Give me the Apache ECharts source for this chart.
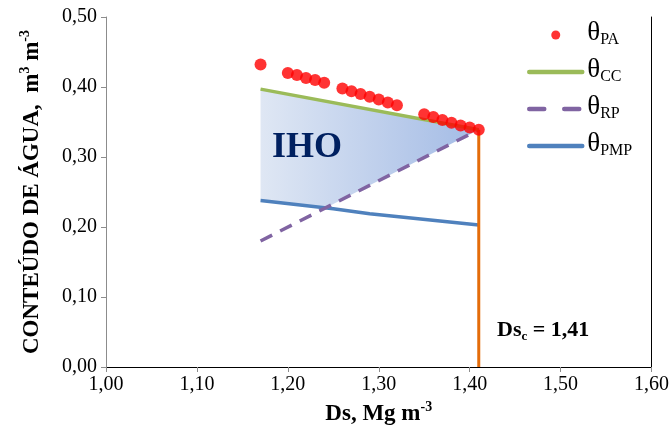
<!DOCTYPE html>
<html><head><meta charset="utf-8">
<script src="https://cdn.jsdelivr.net/npm/echarts@6/dist/echarts.min.js"></script>
<style>html,body{margin:0;padding:0;background:#fff}#c{width:672px;height:436px}</style>
</head><body><div id="c"></div>
<script>
// ---- data ----
const paX = [1.17,1.20,1.21,1.22,1.23,1.24,1.26,1.27,1.28,1.29,1.30,1.31,1.32,1.35,1.36,1.37,1.38,1.39,1.40,1.41];
const paY = [0.432,0.420,0.417,0.413,0.410,0.406,0.398,0.394,0.390,0.386,0.382,0.378,0.374,0.361,0.357,0.353,0.349,0.345,0.342,0.339];
const ccX = [1.17,1.41];
const ccY = [0.397,0.339];
const rpX = [1.17,1.41];
const rpY = [0.180,0.339];
const pmpX = [1.17,1.25,1.29,1.41];
const pmpY = [0.238,0.226,0.219,0.203];
const dscX = [1.41,1.41];
const dscY = [0.0,0.339];
const xMin = 1.0, xMax = 1.6, xStep = 0.1;
const yMin = 0.0, yMax = 0.5, yStep = 0.1;
const dscLabel = '1,41';

const zip = (a,b) => a.map((v,i)=>[v,b[i]]);
const SERIF = '"Liberation Serif","DejaVu Serif",serif';

// IHO polygon from the data lines: top = CC, bottom = max(RP, PMP)
function interp(xs, ys, x){
  for (let i=0;i<xs.length-1;i++){
    if (x>=xs[i]-1e-9 && x<=xs[i+1]+1e-9){
      const t=(x-xs[i])/(xs[i+1]-xs[i]); return ys[i]+t*(ys[i+1]-ys[i]);
    }
  }
  return ys[ys.length-1];
}
function ihoPolygon(){
  const pts=[];
  ccX.forEach((x,i)=>pts.push([x,ccY[i]]));
  let xs = Array.from(new Set([...rpX,...pmpX])).sort((a,b)=>a-b);
  const extra=[];
  for (let i=0;i<xs.length-1;i++){
    const a=xs[i], b=xs[i+1];
    const da=interp(rpX,rpY,a)-interp(pmpX,pmpY,a);
    const db=interp(rpX,rpY,b)-interp(pmpX,pmpY,b);
    if (da*db<0){ extra.push(a+(b-a)*da/(da-db)); }
  }
  xs = xs.concat(extra).sort((a,b)=>b-a);
  xs.forEach(x=>pts.push([x, Math.max(interp(rpX,rpY,x), interp(pmpX,pmpY,x))]));
  return pts;
}
const ihoPts = ihoPolygon();

const chart = echarts.init(document.getElementById('c'), null, {renderer:'canvas'});
const fmt = v => v.toFixed(2).replace('.',',');
const legendRich = {
  t:{fontSize:27, fontFamily:SERIF, color:'#000', lineHeight:27, verticalAlign:'top'},
  s:{fontSize:16, fontFamily:SERIF, color:'#000', lineHeight:16, padding:[14,0,0,0]}
};
const nameRich = {
  b:{fontFamily:SERIF, fontSize:23, fontWeight:'bold', color:'#000', lineHeight:28},
  sup:{fontFamily:SERIF, fontSize:14, fontWeight:'bold', color:'#000', lineHeight:28, verticalAlign:'top', padding:[0,0,8,0]}
};
const hideSym = {opacity:0};
chart.setOption({
  animation:false,
  backgroundColor:'#fff',
  grid:{left:106, right:16, top:17, bottom:69, containLabel:false},
  xAxis:[{
    type:'value', min:xMin, max:xMax, interval:xStep,
    axisLine:{show:true, lineStyle:{color:'#8c8c8c', width:1}},
    axisTick:{show:true, inside:false, length:5, lineStyle:{color:'#8c8c8c'}},
    splitLine:{show:false},
    axisLabel:{formatter:fmt, fontFamily:SERIF, fontSize:20, color:'#000', margin:8},
    name:'{b|Ds, Mg m}{sup|-3}', nameLocation:'middle', nameGap:32,
    nameTextStyle:{rich:nameRich}
  },{
    type:'value', position:'top', min:xMin, max:xMax, interval:xStep,
    axisLine:{show:true, lineStyle:{color:'#000', width:1}},
    axisTick:{show:false}, axisLabel:{show:false}, splitLine:{show:false}
  }],
  yAxis:[{
    type:'value', min:yMin, max:yMax, interval:yStep,
    axisLine:{show:true, lineStyle:{color:'#8c8c8c', width:1}},
    axisTick:{show:true, inside:false, length:5, lineStyle:{color:'#8c8c8c'}},
    splitLine:{show:false},
    axisLabel:{formatter:fmt, fontFamily:SERIF, fontSize:20, color:'#000', margin:9},
    name:'{b|CONTEÚDO DE ÁGUA,  m}{sup|3}{b| m}{sup|-3}', nameLocation:'middle', nameGap:60, nameRotate:90,
    nameTextStyle:{rich:nameRich}
  },{
    type:'value', position:'right', min:yMin, max:yMax, interval:yStep,
    axisLine:{show:true, lineStyle:{color:'#000', width:1}},
    axisTick:{show:false}, axisLabel:{show:false}, splitLine:{show:false}
  }],
  legend:{
    orient:'vertical', left:522, top:13, itemGap:7, itemWidth:53, itemHeight:9,
    textStyle:{rich:legendRich, padding:[0,0,4,0]},
    formatter:function(name){ return '{t|θ}{s|'+name+'}'; },
    data:[
      {name:'PA', icon:'circle', itemStyle:{color:'#ff0000'}},
      {name:'CC', itemStyle:hideSym, lineStyle:{width:4.5, cap:'round'}},
      {name:'RP', itemStyle:hideSym, lineStyle:{width:4.5, cap:'round', type:[15,20]}},
      {name:'PMP', itemStyle:hideSym, lineStyle:{width:4.5, cap:'round'}}
    ]
  },
  graphic:[
    {type:'text', left:272, top:130, z:10, style:{text:'IHO', font:'bold 36px "Liberation Serif", serif', fill:'#002060'}},
    {type:'text', left:497, top:319, z:10, style:{
      text:'{b|Ds}{s|c}{b| = '+dscLabel+'}',
      rich:{
        b:{fontFamily:SERIF, fontSize:22, fontWeight:'bold', fill:'#000', lineHeight:26},
        s:{fontFamily:SERIF, fontSize:13, fontWeight:'bold', fill:'#000', lineHeight:26, verticalAlign:'bottom', padding:[9,0,0,0]}
      }}}
  ],
  series:[
    {
      type:'custom', name:'IHO', silent:true, z:1,
      data:[0],
      renderItem:function(params, api){
        const pts = ihoPts.map(p=>api.coord(p));
        return {type:'polygon', shape:{points:pts}, style:{
          fill:new echarts.graphic.LinearGradient(0,0,1,0,[{offset:0,color:'#dfe7f4'},{offset:1,color:'#a3bbe5'}]),
          stroke:null}};
      }
    },
    {type:'line', name:'PMP', data:zip(pmpX,pmpY), symbol:'none', z:3,
      lineStyle:{color:'#4f81bd', width:3.5}, itemStyle:{color:'#4f81bd'}},
    {type:'line', name:'RP', data:zip(rpX,rpY), symbol:'none', z:3,
      lineStyle:{color:'#8064a2', width:3.5, type:[13,9]}, itemStyle:{color:'#8064a2'}},
    {type:'line', name:'CC', data:zip(ccX,ccY), symbol:'none', z:3,
      lineStyle:{color:'#9bbb59', width:3.5}, itemStyle:{color:'#9bbb59'}},
    {type:'line', name:'Dsc', data:zip(dscX,dscY), symbol:'none', z:3,
      lineStyle:{color:'#e46c0a', width:3}, itemStyle:{color:'#e46c0a'}},
    {type:'scatter', name:'PA', data:zip(paX,paY), symbol:'circle', symbolSize:12, z:5,
      itemStyle:{color:'#ff0000'}}
  ]
});
</script></body></html>
